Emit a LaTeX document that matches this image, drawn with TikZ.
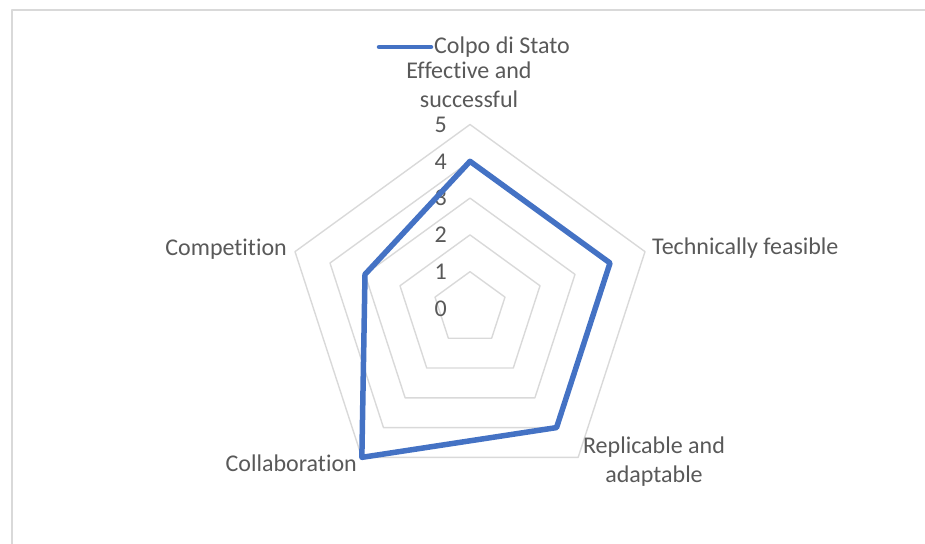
\documentclass[tikz,border=0pt]{standalone}
\usepackage{fontspec}
\setmainfont{Carlito}[Ligatures=NoCommon]
\usepackage{tikz}
\usetikzlibrary{positioning}
\definecolor{chartblue}{RGB}{68,114,196}
\definecolor{gridgray}{RGB}{217,217,217}
\definecolor{textgray}{RGB}{89,89,89}

\begin{document}
\begin{tikzpicture}[x=1pt,y=-1pt,line join=round,
  grid/.style={draw=gridgray,line width=1.4pt},
  series/.style={draw=chartblue,line width=5.5pt},
  label/.style={font=\fontsize{24}{29}\selectfont,text=textgray,inner sep=0pt,align=center},
  tick/.style={label,anchor=east}]
  \useasboundingbox (0,0) rectangle (925,543);
  \draw[gridgray,line width=2pt] (11.5,10.5) rectangle (960,580);
  % radar grid and series
  \begin{scope}[shift={(470,308.5)}]
    \foreach \lv in {1,...,5}
      \draw[grid] (-90:36.8*\lv) \foreach \k in {1,...,4} { -- (-90+72*\k:36.8*\lv) } -- cycle;
    \foreach \lv in {0,...,5}
      \node[tick] (tick\lv) at (-23,-36.8*\lv) {\lv};
    \coordinate (eff) at (-90:4*36.8);
    \coordinate (tech) at (-18:4*36.8);
    \coordinate (repl) at (54:4*36.8);
    \coordinate (coll) at (126:5*36.8);
    \coordinate (comp) at (198:3*36.8);
    \draw[series] (eff) -- (tech) -- (repl) -- (coll) -- (comp) -- cycle;
  \end{scope}
  % category labels
  \node[label] (effective) at (469,85) {Effective and\\successful};
  \node[label,anchor=west] (technical) at (652,248) {Technically feasible};
  \node[label] (replicable) at (654,462) {Replicable and\\adaptable};
  \node[label,anchor=east] (competition) at (287,249) {Competition};
  \node[label,anchor=east] (collaboration) at (357,463) {Collaboration};
  % legend
  \coordinate (legL) at (379,47);
  \coordinate (legR) at (431,47);
  \draw[series,line width=4.5pt,line cap=round] (legL) -- (legR);
  \node[label,anchor=west] (legtext) [right=3pt of legR] {Colpo di Stato};
\end{tikzpicture}
\end{document}
